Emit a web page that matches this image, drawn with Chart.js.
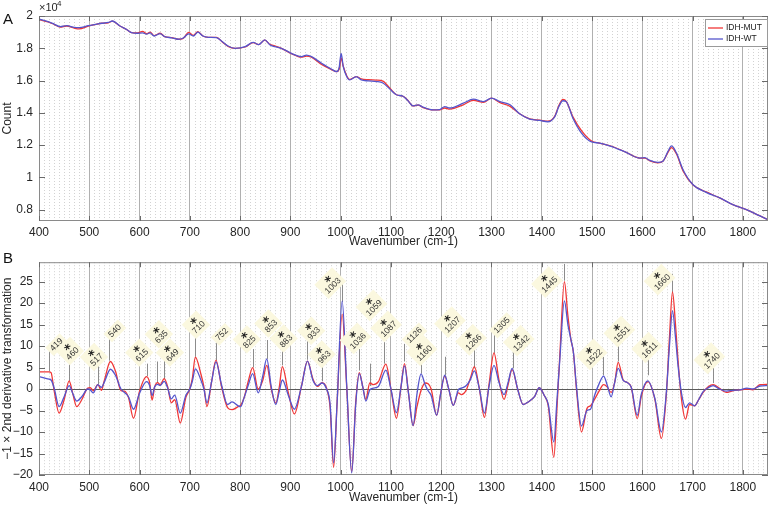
<!DOCTYPE html>
<html>
<head>
<meta charset="utf-8">
<script src="https://cdn.jsdelivr.net/npm/chart.js@4.4.0/dist/chart.umd.min.js"></script>
<style>
  body { margin: 0; background: #fff; }
  #wrap { position: relative; width: 770px; height: 505px; }
  canvas { position: absolute; left: 0; }
</style>
</head>
<body>
<div id="wrap">
  <canvas id="chartA" width="770" height="249" style="top:0px"></canvas>
  <canvas id="chartB" width="770" height="256" style="top:249px"></canvas>
</div>
<script>
// ---- tick values ----
const xTicks  = [400,500,600,700,800,900,1000,1100,1200,1300,1400,1500,1600,1700,1800];
const yTicksA = [8000,10000,12000,14000,16000,18000,20000];
const yTicksB = [-20,-15,-10,-5,0,5,10,15,20,25];

// ---- panel A : raw spectra (counts) ----
const wnA = [
  400,418,430,442,455,470,480,498,512,525,
  538,546,561,575,584,596,606,614,621,629,
  641,650,664,677,686,698,707,716,726,737,
  753,765,776,790,810,826,837,849,859,869,
  882,902,922,932,942,962,982,992,997,1001,
  1005,1012,1018,1031,1041,1055,1071,1084,1098,1111,
  1124,1133,1144,1154,1164,1184,1197,1207,1217,1244,
  1264,1284,1300,1317,1337,1356,1376,1396,1412,1426,
  1434,1442,1449,1462,1479,1499,1515,1542,1568,1595,
  1605,1615,1631,1641,1651,1658,1668,1681,1701,1727,
  1754,1780,1807,1833,1850
];
const mutA = [
  19780,19630,19480,19320,19380,19250,19200,19370,19470,19550,
  19580,19680,19380,19150,18970,18950,19050,18900,19000,18780,
  18930,18720,18660,18560,18600,18980,18800,19030,18760,18680,
  18680,18380,18120,18000,18080,18350,18230,18500,18250,18150,
  18000,17670,17450,17520,17450,17000,16680,16550,16700,17400,
  16900,16300,16070,16250,16100,16050,16030,15970,15520,15120,
  15030,14800,14430,14480,14330,14180,14180,14300,14230,14500,
  14780,14650,14910,14630,14400,13940,13620,13550,13480,13800,
  14450,14830,14700,13750,12900,12260,12130,11900,11550,11200,
  11200,11030,10900,11000,11550,11850,11450,10400,9530,9100,
  8730,8310,8000,7630,7380
];
const wtA = [
  19800,19650,19500,19340,19400,19300,19280,19400,19480,19550,
  19600,19690,19380,19150,18970,18930,18950,18880,18950,18760,
  18910,18720,18650,18560,18620,18890,18760,19000,18760,18680,
  18660,18400,18140,18000,18100,18370,18230,18520,18220,18100,
  18000,17690,17480,17570,17480,17070,16700,16550,16800,17680,
  16900,16250,16040,16250,16040,15980,15940,15850,15470,15120,
  15030,14780,14430,14500,14350,14180,14200,14390,14300,14600,
  14850,14700,14910,14700,14500,13940,13610,13530,13450,13770,
  14390,14750,14680,13670,12750,12200,12130,11880,11550,11200,
  11220,11050,10930,11000,11610,11950,11510,10480,9550,9070,
  8730,8310,8000,7630,7380
];

// ---- panel B : -1 x 2nd derivative ----
const wnB = [
  400,410,420,424,430,440,450,460,467,475,
  485,497,502,508,517,524,530,542,552,563,
  570,578,588,600,614,620,625,630,636,641,
  649,656,663,670,681,692,700,705,711,722,
  728,734,743,752,763,775,784,796,801,808,
  816,825,836,845,853,862,871,878,884,896,
  908,922,934,945,954,963,972,979,986,993,
  1003,1012,1022,1030,1037,1044,1050,1058,1065,1075,
  1090,1100,1111,1120,1127,1135,1144,1152,1160,1168,
  1174,1180,1191,1199,1207,1215,1224,1234,1240,1250,
  1258,1266,1276,1286,1295,1305,1315,1325,1333,1341,
  1352,1363,1373,1386,1395,1405,1413,1424,1430,1436,
  1445,1452,1458,1463,1469,1479,1490,1497,1505,1514,
  1523,1530,1538,1545,1552,1562,1570,1578,1590,1598,
  1611,1625,1638,1648,1654,1660,1666,1671,1678,1686,
  1694,1704,1712,1721,1731,1741,1752,1767,1780,1794,
  1808,1820,1834,1850
];
const mutB = [
  4.0,4.0,4.0,3.8,-0.3,-5.6,-2.5,1.9,-1.0,-4.1,
  -2.5,0.2,0.3,-0.4,1.0,-0.3,2.0,6.4,4.2,-0.4,
  -0.5,-2.0,-6.8,-0.5,2.9,1.5,-2.6,0.5,1.5,1.0,
  2.4,0.5,-3.2,-2.5,-7.9,-2.0,0.0,2.5,7.4,3.5,
  0.5,-4.1,1.5,6.7,0.6,-4.3,-4.8,-4.1,-3.8,-2.0,
  1.7,5.0,0.0,2.0,5.5,0.0,-3.3,0.5,5.2,-0.9,
  -5.8,0.6,6.5,2.3,0.6,1.5,0.2,-4.3,-18.2,-3.0,
  17.4,0.5,-19.2,-3.0,3.8,0.5,-2.4,1.4,1.0,1.7,
  5.8,0.0,-6.8,0.5,5.9,-1.0,-8.5,-4.0,-0.3,1.4,
  1.2,0.0,-6.1,-1.0,3.0,0.0,-3.8,-0.9,-1.3,-0.2,
  2.5,5.2,0.0,-6.6,1.0,8.4,2.0,-2.4,1.0,4.5,
  0.0,-3.6,-3.0,-1.7,0.3,-1.5,-3.9,-15.9,-5.0,8.0,
  25.0,17.0,11.5,8.5,0.0,-10.0,-4.5,-3.9,-2.4,-0.5,
  1.0,0.5,-0.8,1.5,6.2,2.1,1.5,0.4,-6.9,-1.7,
  1.7,-2.4,-11.5,-0.9,12.0,22.6,15.0,6.7,-2.4,-7.0,
  -3.6,-3.9,-2.5,-0.8,0.5,1.0,0.3,-0.8,-0.4,-0.2,
  0.0,-0.2,1.0,1.1
];
const wtB = [
  2.9,2.6,2.3,2.1,0.3,-4.1,-1.8,0.8,-1.0,-2.8,
  -1.8,0.0,-0.2,-0.9,1.0,0.4,1.6,4.6,3.2,0.0,
  -0.8,-1.8,-4.7,-1.0,1.7,0.8,-1.5,0.5,1.1,0.8,
  1.8,0.2,-2.3,-1.4,-5.6,-1.5,0.0,1.8,4.7,2.1,
  0.0,-3.2,1.5,6.3,1.0,-3.6,-3.0,-3.9,-4.1,-2.0,
  0.8,3.6,-0.9,3.0,7.0,0.5,-3.6,-0.5,2.1,-1.5,
  -4.7,0.6,6.5,2.0,0.8,1.4,0.0,-3.5,-17.2,-3.0,
  20.5,1.0,-19.5,-3.5,3.6,0.5,-2.8,-0.2,0.2,0.6,
  4.4,0.0,-5.5,0.5,5.4,-1.0,-8.5,-1.0,3.5,1.0,
  -0.4,-1.5,-6.1,-1.0,3.2,0.0,-3.8,-0.2,0.2,0.8,
  2.2,4.2,0.0,-5.6,0.5,5.5,1.5,-1.3,1.5,4.8,
  0.0,-3.6,-3.0,-1.7,0.3,-1.5,-3.6,-12.3,-3.0,7.0,
  20.5,15.0,11.5,8.5,0.6,-8.6,-5.0,-4.7,-1.5,1.2,
  3.0,1.0,-1.8,1.5,4.8,2.0,1.5,0.4,-6.1,-1.2,
  1.9,-2.2,-10.0,-0.5,10.0,18.2,12.0,5.5,-1.0,-4.3,
  -3.2,-3.9,-2.5,-0.6,0.3,0.8,0.1,-0.5,-0.3,-0.2,
  0.2,0.0,0.7,0.8
];

// peak annotations in panel B
const peakWn   = [419,460,517,540,615,635,649,710,752,825,853,883,933,963,1003,1036,1059,1087,1126,1160,1207,1266,1305,1342,1445,1522,1551,1611,1660,1740];
const peakStar = [0,1,1,0,1,1,1,1,0,1,1,1,1,1,1,1,1,1,0,1,1,1,0,1,1,1,1,1,1,1];
const labelWn  = [435,467,515,551,605,644,666,718,764,819,862,892,947,968,985,1035,1067,1096,1147,1167,1223,1265,1321,1360,1416,1505,1560,1615,1640,1739];
const labelVal = [10.3,8.2,6.8,13.5,7.8,12.1,7.8,14.3,12.7,10.9,14.6,11.1,12.9,7.4,24.0,11.1,18.8,13.9,12.5,8.3,14.9,10.8,14.8,10.6,24.2,7.4,12.7,9.0,24.8,6.5];
const lineTop  = [8.9,6.6,5.5,12.0,5.9,6.4,7.0,12.0,10.9,9.3,11.4,9.3,11.1,5.9,24.5,9.3,5.9,10.9,10.5,7.0,7.5,9.3,12.7,9.3,29.1,7.5,10.9,7.7,26.8,5.5];
const lineBot  = [4.1,1.8,1.1,6.6,3.0,1.4,2.3,7.5,6.6,5.0,7.0,5.5,6.8,1.8,20.2,4.3,0.7,5.9,6.4,3.6,3.2,4.8,8.4,4.8,25.2,3.2,6.4,3.2,22.3,1.4];

const seriesNames = ['IDH-MUT', 'IDH-WT'];
const RED = 'rgb(240, 55, 55)';
const BLUE = 'rgb(85, 85, 205)';
const FONT = '"Liberation Sans", Arial, Helvetica, sans-serif';

Chart.defaults.font.family = FONT;
Chart.defaults.font.size = 12;
Chart.defaults.color = '#262626';

const pts = (xs, ys) => xs.map((v, i) => ({x: v, y: ys[i]}));
const setTicks = vals => s => { s.ticks = vals.map(v => ({value: v})); };

// dotted minor grid, frame, inward ticks, labels
const decor = {
  id: 'decor',
  beforeDatasetsDraw(chart) {
    const {ctx, chartArea: a, scales: {x, y}} = chart;
    ctx.save();
    ctx.strokeStyle = '#d2d2d2';
    ctx.lineWidth = 1;
    ctx.setLineDash([1, 2]);
    for (let w = 410; w < 1850; w += 10) {
      if (w % 100 === 0) continue;
      const px = Math.round(x.getPixelForValue(w)) + 0.5;
      ctx.beginPath(); ctx.moveTo(px, a.top); ctx.lineTo(px, a.bottom); ctx.stroke();
    }
    ctx.setLineDash([]);
    if (chart.canvas.id === 'chartB') {
      // zero line
      const py = Math.round(y.getPixelForValue(0)) + 0.5;
      ctx.strokeStyle = '#5a5a5a';
      ctx.beginPath(); ctx.moveTo(a.left, py); ctx.lineTo(a.right, py); ctx.stroke();
      // peak marker lines
      ctx.strokeStyle = '#8c8c8c';
      peakWn.forEach((wn, i) => {
        const px = Math.round(x.getPixelForValue(wn)) + 0.5;
        ctx.beginPath();
        ctx.moveTo(px, y.getPixelForValue(lineBot[i]));
        ctx.lineTo(px, y.getPixelForValue(lineTop[i]));
        ctx.stroke();
      });
    }
    ctx.restore();
  },
  afterDatasetsDraw(chart) {
    const {ctx, chartArea: a, scales: {x, y}} = chart;
    ctx.save();
    if (chart.canvas.id === 'chartB') {
      peakWn.forEach((wn, i) => {
        const txt = String(wn);
        ctx.save();
        ctx.translate(x.getPixelForValue(labelWn[i]), y.getPixelForValue(labelVal[i]));
        ctx.rotate(-Math.PI / 4);
        ctx.font = '8.5px ' + FONT;
        const w = ctx.measureText(txt).width + 6;
        ctx.fillStyle = '#fbf8df';
        if (peakStar[i]) ctx.fillRect(-w / 2, -14, w, 20);
        else ctx.fillRect(-w / 2, -6, w, 12);
        ctx.fillStyle = '#333';
        ctx.textAlign = 'center';
        ctx.textBaseline = 'middle';
        ctx.fillText(txt, 0, 0);
        if (peakStar[i]) {
          ctx.font = 'bold 13px "DejaVu Sans"';
          ctx.fillStyle = '#222';
          ctx.fillText('*', 1, -5.5);
        }
        ctx.restore();
      });
    }
    // frame
    ctx.strokeStyle = '#8a8a8a';
    ctx.lineWidth = 1;
    ctx.strokeRect(a.left + 0.5, a.top + 0.5, a.right - a.left - 1, a.bottom - a.top - 1);
    // inward ticks
    ctx.strokeStyle = '#6a6a6a';
    ctx.beginPath();
    x.ticks.forEach(t => {
      const px = Math.round(x.getPixelForValue(t.value)) + 0.5;
      ctx.moveTo(px, a.bottom); ctx.lineTo(px, a.bottom - 5);
      ctx.moveTo(px, a.top); ctx.lineTo(px, a.top + 5);
    });
    y.ticks.forEach(t => {
      const py = Math.round(y.getPixelForValue(t.value)) + 0.5;
      ctx.moveTo(a.left, py); ctx.lineTo(a.left + 6, py);
      ctx.moveTo(a.right, py); ctx.lineTo(a.right - 6, py);
    });
    ctx.stroke();
    ctx.restore();
  },
  afterDraw(chart) {
    const {ctx} = chart;
    ctx.save();
    ctx.fillStyle = '#111';
    ctx.textBaseline = 'middle';
    ctx.font = '15px ' + FONT;
    if (chart.canvas.id === 'chartA') {
      ctx.fillText('A', 3, 20);
      ctx.font = '11px ' + FONT;
      ctx.fillStyle = '#262626';
      ctx.fillText('\u00d710', 39, 8);
      ctx.font = '8px ' + FONT;
      ctx.fillText('4', 57, 4);
      // legend
      const lx = 705, ly = 19;
      ctx.fillStyle = '#fff';
      ctx.fillRect(lx, ly, 63, 28);
      ctx.strokeStyle = '#9a9a9a';
      ctx.strokeRect(lx + 0.5, ly + 0.5, 62, 27);
      [RED, BLUE].forEach((c, i) => {
        const yy = ly + 9 + i * 11;
        ctx.strokeStyle = c;
        ctx.lineWidth = 1.3;
        ctx.beginPath(); ctx.moveTo(lx + 3, yy); ctx.lineTo(lx + 18, yy); ctx.stroke();
        ctx.fillStyle = '#222';
        ctx.font = '8.5px ' + FONT;
        ctx.fillText(seriesNames[i], lx + 21, yy);
      });
    } else {
      ctx.fillText('B', 3, 10);
    }
    ctx.restore();
  }
};

function xScale(h, pad) {
  return {
    type: 'linear', min: 400, max: 1850,
    ticks: { padding: pad, maxRotation: 0, autoSkip: false, callback: v => v },
    afterBuildTicks: setTicks(xTicks),
    grid: { color: '#b0b0b0', drawTicks: false },
    border: { display: false },
    title: { display: true, text: 'Wavenumber (cm-1)', font: { size: 12, lineHeight: 1 }, padding: { top: 0, bottom: 1 } },
    afterFit: s => { s.height = h; }
  };
}

function lineSet(label, xs, ys, color, order) {
  return {
    label: label, data: pts(xs, ys), borderColor: color, backgroundColor: color,
    borderWidth: 1.3, pointRadius: 0, cubicInterpolationMode: 'monotone', order: order
  };
}

new Chart(document.getElementById('chartA'), {
  type: 'line',
  data: {
    datasets: [
      lineSet(seriesNames[0], wnA, mutA, RED, 1),
      lineSet(seriesNames[1], wnA, wtA, BLUE, 0)
    ]
  },
  options: {
    responsive: false, animation: false, devicePixelRatio: 1,
    layout: { padding: { top: 16, right: 2, left: 0, bottom: 0 } },
    plugins: { legend: { display: false }, tooltip: { enabled: false } },
    scales: {
      x: xScale(28, 4),
      y: {
        min: 7300, max: 20000,
        ticks: { padding: 6, callback: v => String(v / 10000) },
        afterBuildTicks: setTicks(yTicksA),
        grid: { display: false, drawTicks: false },
        border: { display: false },
        title: { display: true, text: 'Count', font: { size: 12, lineHeight: 1 }, padding: { top: 2, bottom: 0 } },
        afterFit: s => { s.width = 39; }
      }
    }
  },
  plugins: [decor]
});

new Chart(document.getElementById('chartB'), {
  type: 'line',
  data: {
    datasets: [
      lineSet(seriesNames[0], wnB, mutB, RED, 1),
      lineSet(seriesNames[1], wnB, wtB, BLUE, 0)
    ]
  },
  options: {
    responsive: false, animation: false, devicePixelRatio: 1,
    layout: { padding: { top: 6, right: 2, left: 0, bottom: 0 } },
    plugins: { legend: { display: false }, tooltip: { enabled: false } },
    scales: {
      x: xScale(30, 5),
      y: {
        min: -20, max: 29.5,
        ticks: { padding: 6, callback: v => v < 0 ? '\u2212' + (-v) : String(v) },
        afterBuildTicks: setTicks(yTicksB),
        grid: { display: false, drawTicks: false },
        border: { display: false },
        title: { display: true, text: '\u22121 \u00d7 2nd derivative transformation', font: { size: 12, lineHeight: 1 }, padding: { top: 2, bottom: 0 } },
        afterFit: s => { s.width = 39; }
      }
    }
  },
  plugins: [decor]
});
</script>
</body>
</html>
